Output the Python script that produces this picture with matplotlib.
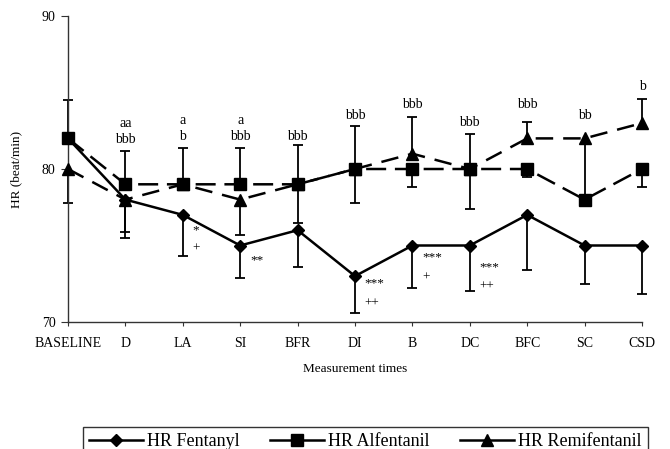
import numpy as np
import matplotlib
matplotlib.use("Agg")
import matplotlib.pyplot as plt
from matplotlib.lines import Line2D

plt.rcParams['font.family'] = ['Liberation Serif', 'DejaVu Serif']

# --- data ---
times = ["BASELINE", "D", "LA", "SI", "BFR", "DI", "B", "DC", "BFC", "SC", "CSD"]

hr_fentanyl = [82, 78, 77, 75, 76, 73, 75, 75, 77, 75, 75]
hr_alfentanil = [82, 79, 79, 79, 79, 80, 80, 80, 80, 78, 80]
hr_remifentanil = [80, 78, 79, 78, 79, 80, 81, 80, 82, 82, 83]

# one-sided error bars (lower, upper); 0 = not drawn
fen_lower = [0, 2.5, 2.7, 2.1, 2.4, 2.4, 2.8, 3.0, 3.6, 2.5, 3.2]
fen_upper = [0, 0, 0, 0, 0, 0, 0, 0, 0, 0, 0]
alf_lower = [0, 0, 0, 0, 2.5, 2.2, 1.2, 2.6, 0.5, 0, 1.2]
alf_upper = [2.5, 2.2, 2.4, 2.4, 2.6, 2.8, 0, 2.3, 0, 0, 0]
rem_lower = [2.2, 2.1, 0, 2.3, 0, 0, 0, 0, 0, 4.0, 0]
rem_upper = [0, 0, 0, 0, 0, 0, 2.4, 0, 1.1, 0, 1.6]

# significance letters above the bars
top_labels = ["", "aa\nbbb", "a\nb", "a\nbbb", "bbb", "bbb", "bbb", "bbb", "bbb", "bb", "b"]
top_label_y = [0, 81.5, 81.7, 81.7, 81.7, 83.1, 83.8, 82.6, 83.8, 83.1, 85.0]

# marks beside the fentanyl bars: (category index, text, y)
side_marks = [(2, "*", 76.0), (2, "+", 74.8), (3, "**", 74.0),
              (5, "***", 72.5), (5, "++", 71.2),
              (6, "***", 74.2), (6, "+", 72.9),
              (7, "***", 73.6), (7, "++", 72.3)]

x = np.arange(len(times))

fig = plt.figure(figsize=(6.7, 4.49), dpi=100)
ax = fig.add_axes([68 / 670, 1 - 322 / 449, (642 - 68) / 670, (322 - 16) / 449])


def draw_bars(vals, lower, upper):
    vals = np.asarray(vals, float)
    lower = np.asarray(lower, float)
    upper = np.asarray(upper, float)
    for err, sign in ((lower, 0), (upper, 1)):
        idx = err > 0
        if not idx.any():
            continue
        zeros = np.zeros(idx.sum())
        yerr = [err[idx], zeros] if sign == 0 else [zeros, err[idx]]
        eb = ax.errorbar(x[idx], vals[idx], yerr=yerr, fmt='none', ecolor='black',
                         elinewidth=1.3, capsize=3.6, capthick=1.3, zorder=2)
        # keep only the cap at the far end of each bar
        caps = eb[1]
        if sign == 0:
            caps[1].set_visible(False)
        else:
            caps[0].set_visible(False)
        for art in list(caps) + list(eb[2]):
            art.set_clip_on(False)


draw_bars(hr_fentanyl, fen_lower, fen_upper)
draw_bars(hr_alfentanil, alf_lower, alf_upper)
draw_bars(hr_remifentanil, rem_lower, rem_upper)

ax.plot(x, hr_remifentanil, color='black', lw=1.8, dashes=(7, 4),
        marker='^', ms=8, zorder=3, clip_on=False)
ax.plot(x, hr_alfentanil, color='black', lw=1.8, dashes=(8, 3.5),
        marker='s', ms=9, zorder=3, clip_on=False)
ax.plot(x, hr_fentanyl, color='black', lw=1.8, ls='-',
        marker='D', ms=6, zorder=4, clip_on=False)

for xi, txt, ty in zip(x, top_labels, top_label_y):
    if txt:
        ax.text(xi, ty, txt, ha='center', va='bottom', fontsize=10,
                linespacing=1.3)

for ci, txt, ty in side_marks:
    ax.text(ci + 0.17, ty, txt, ha='left', va='center', fontsize=9.5)

ax.set_xlim(0, len(times) - 1)
ax.set_ylim(70, 90)
ax.set_yticks([70, 80, 90])
ax.set_xticks(x)
ax.set_xticklabels(times)
ax.tick_params(axis='x', length=3, pad=8, labelsize=10, color='#333333')
ax.tick_params(axis='y', length=5, pad=4, labelsize=10, color='#333333')
for side in ('top', 'right'):
    ax.spines[side].set_visible(False)
for side in ('left', 'bottom'):
    ax.spines[side].set_color('#333333')
    ax.spines[side].set_linewidth(1.0)

ax.set_ylabel("HR (beat/min)", fontsize=9.5, labelpad=14)
ax.set_xlabel("Measurement times", fontsize=9.5, labelpad=9)

handles = [
    Line2D([], [], color='black', lw=1.8, marker='D', ms=6),
    Line2D([], [], color='black', lw=1.8, marker='s', ms=8),
    Line2D([], [], color='black', lw=1.8, marker='^', ms=8),
]
leg = fig.legend(handles, ["HR Fentanyl", "HR Alfentanil", "HR Remifentanil"],
                 loc='upper left', bbox_to_anchor=(0.11, 0.0, 0.87, 1 - 418 / 449),
                 mode='expand', ncol=3, fontsize=13, handlelength=3.0,
                 handletextpad=0.2, columnspacing=1.0, borderpad=0.35,
                 fancybox=False, edgecolor='#333333', framealpha=1)
leg.get_frame().set_linewidth(1.0)

fig.savefig("out.png", dpi=100)
